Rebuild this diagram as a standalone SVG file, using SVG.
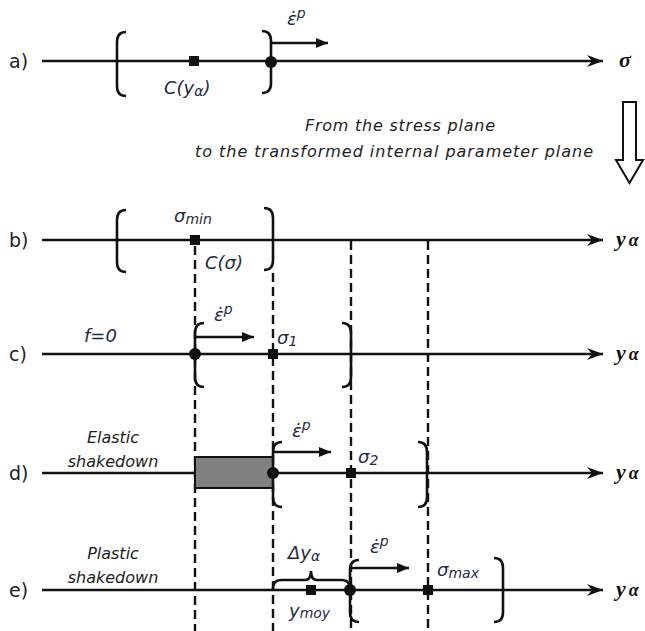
<svg xmlns="http://www.w3.org/2000/svg" width="645" height="631" viewBox="0 0 645 631">
<defs>
<marker id="open" markerWidth="20" markerHeight="14" refX="17" refY="7" orient="auto" markerUnits="userSpaceOnUse">
<path d="M1,1 L17,7 L1,13 L6,7 Z" fill="#111"/>
</marker>
<marker id="solid" markerWidth="14" markerHeight="12" refX="12" refY="6" orient="auto" markerUnits="userSpaceOnUse">
<path d="M0,1 L12,6 L0,11 Z" fill="#111"/>
</marker>
</defs>
<style>
.axis{stroke:#111;stroke-width:2.6;fill:none}
.dash{stroke:#111;stroke-width:2.4;stroke-dasharray:9,5;fill:none}
.br{stroke:#111;stroke-width:2.6;fill:none}
.flow{stroke:#111;stroke-width:2.6;fill:none}
.lbl{font-family:"DejaVu Sans","Open Sans",sans-serif;font-size:19px;fill:#222}
.it{font-family:"DejaVu Sans","Open Sans",sans-serif;font-style:italic;font-size:18px;fill:#1e2a44}
.ax{font-family:"Liberation Serif",serif;font-style:italic;font-weight:bold;font-size:22px;fill:#111}
.note{font-family:"DejaVu Sans","Open Sans",sans-serif;font-style:italic;font-size:16px;fill:#222}
.sub{font-size:14px}
</style>
<rect width="645" height="631" fill="#fff"/>

<g id="connectors">
<line class="dash" x1="195" y1="246" x2="195" y2="631"/>
<line class="dash" x1="273" y1="273" x2="273" y2="631"/>
<line class="dash" x1="351" y1="241" x2="351" y2="631"/>
<line class="dash" x1="428" y1="241" x2="428" y2="631"/>
</g>

<g id="row-a">
<text class="lbl" x="9" y="68">a)</text>
<line class="axis" x1="42" y1="61" x2="603" y2="61" marker-end="url(#open)"/>
<text class="ax" x="619" y="67">σ</text>
<path class="br" d="M126,32 Q117,32 117,42 L117,86 Q117,96 126,96"/>
<path class="br" d="M262,31 Q271,31 271,41 L271,83 Q271,93 262,93"/>
<rect x="189" y="56" width="10" height="10" fill="#111"/>
<circle cx="271" cy="62" r="6" fill="#111"/>
<line class="flow" x1="272" y1="43" x2="328" y2="43" marker-end="url(#solid)"/>
<text class="it" x="287" y="25">ε̇<tspan class="sub" dy="-7">p</tspan></text>
<text class="it" x="164" y="94">C(y<tspan class="sub" dy="2">α</tspan><tspan dy="-2">)</tspan></text>
</g>

<g id="transform-note">
<text class="note" x="400" y="131" text-anchor="middle" textLength="190" lengthAdjust="spacing">From the stress plane</text>
<text class="note" x="394" y="157" text-anchor="middle" textLength="398" lengthAdjust="spacing">to the transformed internal parameter plane</text>
<path d="M623,102 L636,102 L636,160 L643,160 L629.5,183 L616,160 L623,160 Z" fill="#fff" stroke="#111" stroke-width="2"/>
</g>

<g id="row-b">
<text class="lbl" x="9" y="247">b)</text>
<line class="axis" x1="42" y1="240" x2="603" y2="240" marker-end="url(#open)"/>
<text class="ax" x="616" y="246">y<tspan font-size="18" dx="3">α</tspan></text>
<path class="br" d="M126,210 Q117,210 117,220 L117,262 Q117,272 126,272"/>
<path class="br" d="M264,208 Q273,208 273,218 L273,260 Q273,270 264,270"/>
<rect x="190" y="235" width="10" height="10" fill="#111"/>
<text class="it" x="174" y="222">σ<tspan class="sub" dy="2">min</tspan></text>
<text class="it" x="205" y="269">C(σ)</text>
</g>

<g id="row-c">
<text class="lbl" x="9" y="361">c)</text>
<line class="axis" x1="42" y1="354" x2="603" y2="354" marker-end="url(#open)"/>
<text class="ax" x="616" y="360">y<tspan font-size="18" dx="3">α</tspan></text>
<text class="it" x="84" y="342">f=0</text>
<path class="br" d="M204,323 Q195,323 195,333 L195,377 Q195,387 204,387"/>
<path class="br" d="M342,323 Q351,323 351,333 L351,377 Q351,387 342,387"/>
<circle cx="195" cy="354" r="6" fill="#111"/>
<rect x="268" y="349" width="10" height="10" fill="#111"/>
<line class="flow" x1="196" y1="337" x2="254" y2="337" marker-end="url(#solid)"/>
<text class="it" x="214" y="321">ε̇<tspan class="sub" dy="-7">p</tspan></text>
<text class="it" x="277" y="344">σ<tspan class="sub" dy="2">1</tspan></text>
</g>

<g id="row-d">
<text class="lbl" x="9" y="480">d)</text>
<line class="axis" x1="42" y1="473" x2="603" y2="473" marker-end="url(#open)"/>
<text class="ax" x="616" y="479">y<tspan font-size="18" dx="3">α</tspan></text>
<text class="note" x="113" y="443" text-anchor="middle">Elastic</text>
<text class="note" x="113" y="467" text-anchor="middle">shakedown</text>
<rect x="195" y="457" width="78" height="31" fill="#808080" stroke="#111" stroke-width="2"/>
<path class="br" d="M282,442 Q273,442 273,452 L273,497 Q273,507 282,507"/>
<path class="br" d="M418,442 Q427,442 427,452 L427,497 Q427,507 418,507"/>
<circle cx="273" cy="473" r="6" fill="#111"/>
<rect x="346" y="468" width="10" height="10" fill="#111"/>
<line class="flow" x1="274" y1="452" x2="331" y2="452" marker-end="url(#solid)"/>
<text class="it" x="292" y="437">ε̇<tspan class="sub" dy="-7">p</tspan></text>
<text class="it" x="358" y="463">σ<tspan class="sub" dy="2">2</tspan></text>
</g>

<g id="row-e">
<text class="lbl" x="9" y="597">e)</text>
<line class="axis" x1="42" y1="590" x2="603" y2="590" marker-end="url(#open)"/>
<text class="ax" x="616" y="596">y<tspan font-size="18" dx="3">α</tspan></text>
<text class="note" x="113" y="559" text-anchor="middle">Plastic</text>
<text class="note" x="113" y="583" text-anchor="middle">shakedown</text>
<path class="br" d="M273,589 Q273,580 281,580 L305,580 Q311,580 311,571 Q311,580 317,580 L342,580 Q350,580 350,589"/>
<rect x="306" y="585" width="10" height="10" fill="#111"/>
<text class="it" x="288" y="559" font-size="20">Δy<tspan class="sub" dy="2">α</tspan></text>
<text class="it" x="289" y="617">y<tspan class="sub" dy="1">moy</tspan></text>
<path class="br" d="M359,560 Q350,560 350,570 L350,612 Q350,622 359,622"/>
<path class="br" d="M494,558 Q503,558 503,568 L503,612 Q503,622 494,622"/>
<circle cx="350" cy="590" r="6" fill="#111"/>
<rect x="423" y="585" width="10" height="10" fill="#111"/>
<line class="flow" x1="351" y1="568" x2="409" y2="568" marker-end="url(#solid)"/>
<text class="it" x="370" y="553">ε̇<tspan class="sub" dy="-7">p</tspan></text>
<text class="it" x="437" y="576">σ<tspan class="sub" dy="2">max</tspan></text>
</g>
</svg>
